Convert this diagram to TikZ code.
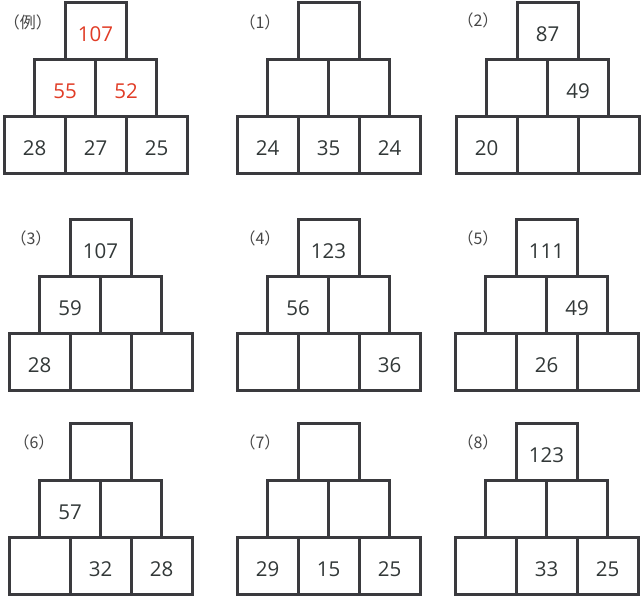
\documentclass[tikz,border=0pt]{standalone}
\usepackage{fontspec}
\setmainfont{Open Sans}
\newfontfamily\cjkfont{Noto Sans CJK JP}
\definecolor{boxc}{RGB}{58,58,62}
\definecolor{numc}{RGB}{50,56,56}
\definecolor{numred}{RGB}{225,60,38}
\definecolor{labc}{RGB}{70,70,70}
\tikzset{
  cell/.style={draw=boxc, line width=3pt, minimum width=61pt, minimum height=57pt,
    inner sep=0pt, text height=20pt, text depth=0pt,
    font=\fontsize{20.5}{22}\selectfont, text=numc},
  lab/.style={font=\cjkfont\fontsize{16}{18}\selectfont, text=labc, inner sep=0pt}
}
% #1 name, #2 x0 (left of bottom row), #3 y centre of bottom row
\newcommand\pyr[9]{%
  \node[cell] (#1b1) at (#2+30.5,#3) {#7};
  \node[cell] (#1b2) at (#2+91.5,#3) {#8};
  \node[cell] (#1b3) at (#2+152.5,#3) {#9};
  \node[cell] (#1m1) at (#2+61,#3-57) {#5};
  \node[cell] (#1m2) at (#2+122,#3-57) {#6};
  \node[cell] (#1t) at (#2+91.5,#3-114) {#4};
}
\begin{document}
\begin{tikzpicture}[x=1pt,y=-1pt]
\useasboundingbox (0,0) rectangle (642,595);
\fill[white] (0,0) rectangle (642,595);
% row 1
\pyr{a}{4}{145}{\color{numred}107}{\color{numred}55}{\color{numred}52}{28}{27}{25}
\pyr{b}{237}{145}{}{}{}{24}{35}{24}
\pyr{c}{456}{145}{87}{}{49}{20}{}{}
% row 2
\pyr{d}{9}{362}{107}{59}{}{28}{}{}
\pyr{e}{237}{362}{123}{56}{}{}{}{36}
\pyr{f}{455}{362}{111}{}{49}{}{26}{}
% row 3
\pyr{g}{9}{566}{}{57}{}{}{32}{28}
\pyr{h}{237}{566}{}{}{}{29}{15}{25}
\pyr{k}{455}{566}{123}{}{}{}{33}{25}
% labels
\node[lab] (la) at (28,22) {（例）};
\node[lab] (lb) at (260,22) {（1）};
\node[lab] (lc) at (478,20) {（2）};
\node[lab] (ld) at (31,238) {（3）};
\node[lab] (le) at (260,238) {（4）};
\node[lab] (lf) at (478,238) {（5）};
\node[lab] (lg) at (34,442) {（6）};
\node[lab] (lh) at (260,442) {（7）};
\node[lab] (lk) at (478,442) {（8）};
\end{tikzpicture}
\end{document}
